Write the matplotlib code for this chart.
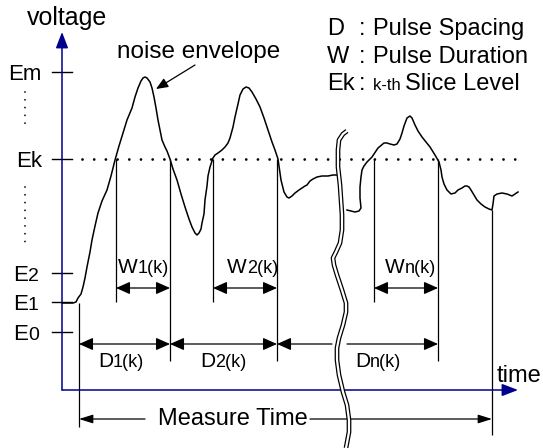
import matplotlib
matplotlib.use('Agg')
import matplotlib.pyplot as plt

plt.rcParams['font.family'] = ['Liberation Sans', 'DejaVu Sans']

# levels on the voltage axis (image units, y grows downward)
level_names = ['Em', 'Ek', 'E2', 'E1', 'E0']
level_vals = [72, 159, 273, 302, 332]
level_subs = ['m', 'k', '2', '1', '0']

# noise envelope, part before the break
env1_t = [62, 73, 76, 78, 81, 83, 85, 87, 90, 92, 95, 98, 102, 107, 111, 115, 119,
          123, 127, 132, 135, 138, 141, 143, 145, 147, 150, 152, 154, 156, 158,
          160, 162, 165, 167, 170, 173, 177, 181, 185, 189, 192, 195, 197, 199,
          201, 202, 204, 205, 207, 208, 210, 213, 215, 218, 222, 225, 228, 230,
          233, 235, 238, 240, 243, 246, 249, 252, 256, 260, 264, 268, 272, 275,
          278, 281, 284, 287, 289, 292, 295, 299, 302, 305, 307, 310, 313, 317,
          322, 328, 333, 338]
env1_v = [303, 303, 302, 298, 294, 287, 278, 267, 252, 240, 226, 213, 201, 190, 176,
          160, 146, 133, 120, 108, 97, 88, 81, 78, 77, 78, 82, 88, 97, 108, 120,
          130, 140, 147, 151, 159, 169, 180, 194, 207, 219, 227, 233, 235, 233,
          229, 223, 214, 200, 186, 176, 167, 158, 155, 153, 150, 147, 143, 138,
          127, 117, 104, 95, 89, 87, 88, 92, 99, 107, 118, 130, 142, 150, 159,
          180, 192, 197, 198, 196, 193, 190, 188, 186, 185, 181, 179, 177, 176,
          176, 175, 175]

# noise envelope, part after the break
env2_t = [347, 351, 355, 359, 361, 360, 360, 361, 362, 364, 367, 372, 378, 384, 387,
          390, 394, 397, 400, 402, 404, 407, 410, 412, 415, 418, 422, 426, 430,
          435, 439, 441, 442, 444, 447, 451, 455, 458, 462, 465, 467, 469, 471,
          474, 477, 481, 485, 489, 492, 493, 494, 497, 502, 507, 512, 515, 518]
env2_v = [210, 211, 212, 211, 208, 198, 187, 177, 170, 166, 162, 157, 148, 143, 143,
          144, 145, 144, 139, 133, 126, 118, 116, 118, 125, 131, 137, 142, 147,
          155, 162, 170, 177, 184, 190, 194, 193, 190, 188, 186, 186, 187, 190,
          195, 200, 204, 207, 209, 210, 204, 196, 194, 193, 194, 196, 194, 192]

# wavy break line
break_t = [347, 343, 339, 338, 338, 340, 341, 342, 342, 340, 336, 333, 334, 337, 342,
           346, 346, 343, 339, 337, 337, 339, 343, 347, 349, 349, 346]
break_v = [131, 134, 140, 150, 167, 185, 200, 215, 230, 243, 252, 258, 265, 275, 290,
           303, 312, 325, 338, 348, 360, 375, 392, 405, 420, 432, 448]

# crossings of the slice level Ek
w_start = [116, 213, 374]
w_end = [170, 277, 438]
w_subs = ['1(k)', '2(k)', 'n(k)']
w_label_x = [118, 227, 385]
d_start = [79, 170, 277]
d_end = [170, 277, 438]
d_subs = ['1(k)', '2(k)', 'n(k)']
d_label_x = [98, 200, 355]
measure_start, measure_end = 79, 492

legend_keys = ['D', 'W', 'Ek']
legend_vals = ['Pulse Spacing', 'Pulse Duration', 'Slice Level']

axis_c = '#00008c'

fig = plt.figure(figsize=(5.43, 4.48), dpi=100)
ax = fig.add_axes([0, 0, 1, 1])
ax.set_xlim(0, 543)
ax.set_ylim(448, 0)
ax.axis('off')


def sub_label(x, y, main, sub, size=15, subsize=13):
    # main letter and a smaller suffix on the same baseline y
    t = ax.text(x, y, main, fontsize=size, ha='left', va='baseline')
    ax.annotate(sub, xy=(1, y), xycoords=(t, 'data'), fontsize=subsize,
                ha='left', va='baseline')


# axes with arrows
origin_t, origin_v = 62, 390
ax.annotate('', xy=(origin_t, 32), xytext=(origin_t, origin_v),
            arrowprops=dict(arrowstyle='-|>,head_length=0.65,head_width=0.25',
                            color=axis_c, lw=1.1, mutation_scale=15, shrinkA=0, shrinkB=0))
ax.annotate('', xy=(518, origin_v), xytext=(origin_t, origin_v),
            arrowprops=dict(arrowstyle='-|>,head_length=0.65,head_width=0.25',
                            color=axis_c, lw=1.1, mutation_scale=15, shrinkA=0, shrinkB=0))
ax.text(27, 18, 'voltage', fontsize=18, ha='left', va='center')
ax.text(497, 376, 'time', fontsize=17, ha='left', va='center')

# level ticks and labels
for name, v, s in zip(level_names, level_vals, level_subs):
    ax.plot([52, 72], [v, v], color='k', lw=1.0)
    if s in 'mk':
        ax.text(42, v + 8, name, fontsize=16, ha='right', va='baseline')
    else:
        sub_label(13, v + 8, 'E', s, size=16, subsize=14)

# dotted columns between level labels
ax.plot([25, 25], [92, 124], color='k', lw=1.3, linestyle=(0, (0.01, 4.3)),
        dash_capstyle='round')
ax.plot([25, 25], [187, 246], color='k', lw=1.3, linestyle=(0, (0.01, 4.3)),
        dash_capstyle='round')

# slice level Ek
ax.plot([82, 517], [level_vals[1], level_vals[1]], color='k', lw=2.0,
        linestyle=(0, (0.01, 4.2)), dash_capstyle='round')

# envelope
ax.plot(env1_t, env1_v, color='k', lw=1.1, zorder=3)
ax.plot(env2_t, env2_v, color='k', lw=1.1, zorder=3)
ax.text(117, 52, 'noise envelope', fontsize=17.5, ha='left', va='center')
ax.annotate('', xy=(156, 89), xytext=(195, 65),
            arrowprops=dict(arrowstyle='-|>,head_length=0.6,head_width=0.25',
                            color='k', lw=0.9, mutation_scale=12, shrinkA=0, shrinkB=0))

# vertical markers
ek = level_vals[1]
ax.vlines(w_start, ek, 302, color='k', lw=0.9)
ax.vlines(d_end, ek, 361, color='k', lw=0.9)
ax.vlines(measure_start, 303, 427, color='k', lw=0.9)
ax.vlines(measure_end, 210, 435, color='k', lw=0.9)

dbl = dict(arrowstyle='<|-|>,head_length=0.45,head_width=0.2', color='k', lw=0.9,
           mutation_scale=19, shrinkA=0, shrinkB=0)
# pulse durations
for a, b, s, lx in zip(w_start, w_end, w_subs, w_label_x):
    ax.annotate('', xy=(b, 288), xytext=(a, 288), arrowprops=dbl)
    sub_label(lx, 273, 'W', s)

# pulse spacings (the last one is cut by the break)
for a, b, s, lx in zip(d_start[:2], d_end[:2], d_subs[:2], d_label_x[:2]):
    ax.annotate('', xy=(b, 344), xytext=(a, 344), arrowprops=dbl)
for a, b, s, lx in zip(d_start, d_end, d_subs, d_label_x):
    sub_label(lx, 367, 'D', s)
single = dict(dbl, arrowstyle='-|>,head_length=0.45,head_width=0.2')
ax.annotate('', xy=(d_start[2], 344), xytext=(332, 344), arrowprops=single)
ax.annotate('', xy=(d_end[2], 344), xytext=(347, 344), arrowprops=single)

# measure time
thin = dict(arrowstyle='-|>,head_length=0.7,head_width=0.22', color='k', lw=0.9,
            mutation_scale=12, shrinkA=0, shrinkB=0)
ax.annotate('', xy=(measure_start, 419), xytext=(145, 419), arrowprops=thin)
ax.annotate('', xy=(measure_end, 419), xytext=(310, 419), arrowprops=thin)
ax.text(233, 419, 'Measure Time', fontsize=17, ha='center', va='center')

# break
ax.plot(break_t, break_v, color='k', lw=3.4, zorder=5, solid_capstyle='butt')
ax.plot(break_t, break_v, color='white', lw=1.6, zorder=6, solid_capstyle='round')

# legend text
for key, val, y in zip(legend_keys, legend_vals, [35, 63, 90]):
    ax.text(327, y, key, fontsize=17, ha='left', va='baseline')
    ax.text(362, y, ':', fontsize=17, ha='center', va='baseline')
    if key == 'Ek':
        t = ax.text(373, y, 'k-th ', fontsize=12, ha='left', va='baseline')
        ax.annotate(val, xy=(1, y), xycoords=(t, 'data'), fontsize=17,
                    ha='left', va='baseline')
    else:
        ax.text(373, y, val, fontsize=17, ha='left', va='baseline')

fig.savefig('out.png', dpi=100)
